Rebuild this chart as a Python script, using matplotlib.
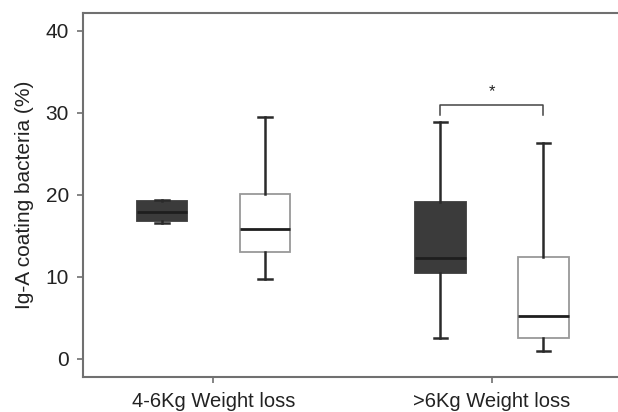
import matplotlib
matplotlib.use("Agg")
import matplotlib.pyplot as plt

plt.rcParams['font.family'] = ['Liberation Sans', 'DejaVu Sans']

groups = ["4-6Kg Weight loss", ">6Kg Weight loss"]
# per box: whislo, q1, med, q3, whishi  (dark = first, white = second in each group)
whislo = [16.6, 9.7, 2.56, 0.94]
q1 = [16.8, 13.0, 10.45, 2.56]
med = [17.85, 15.85, 12.24, 5.17]
q3 = [19.3, 20.1, 19.07, 12.44]
whishi = [19.4, 29.55, 28.9, 26.3]
dark = [True, False, True, False]
pos = [-0.185, 0.185, 0.815, 1.185]

fig = plt.figure(figsize=(6.18, 4.12), dpi=100)
ax = fig.add_axes([0.1351, 0.0857, 0.8649, 0.883])

stats = []
for i in range(4):
    stats.append(dict(whislo=whislo[i], q1=q1[i], med=med[i], q3=q3[i],
                      whishi=whishi[i], fliers=[]))

bp = ax.bxp(stats, positions=pos, widths=0.183, patch_artist=True,
            showfliers=False, capwidths=0.047,
            medianprops=dict(color="#1e1e1e", linewidth=2.0),
            whiskerprops=dict(color="#2a2a2a", linewidth=1.8),
            capprops=dict(color="#2a2a2a", linewidth=1.8))
for b, d in zip(bp["boxes"], dark):
    if d:
        b.set_facecolor("#3b3b3b")
        b.set_edgecolor("#3b3b3b")
    else:
        b.set_facecolor("white")
        b.set_edgecolor("#999999")
    b.set_linewidth(1.3)

# significance bracket
ax.plot([pos[2], pos[2], pos[3], pos[3]], [29.7, 31.0, 31.0, 29.7],
        color="#444444", linewidth=1.1)
ax.text((pos[2] + pos[3]) / 2, 32.6, "*", ha="center", va="center",
        fontsize=12, color="#222222")

ax.set_xlim(-0.467, 1.453)
ax.set_ylim(-2.2, 42.2)
ax.set_xticks([0, 1])
ax.set_xticklabels(groups, fontsize=14.5, color="#222222")
ax.set_yticks([0, 10, 20, 30, 40])
ax.tick_params(axis="y", labelsize=15, labelcolor="#222222", length=4.5,
               width=1.2, color="#707070", pad=6)
ax.tick_params(axis="x", length=4, width=1.2, color="#707070", pad=7)
ax.set_ylabel("Ig-A coating bacteria (%)", fontsize=15, color="#222222", labelpad=8)
for s in ["left", "bottom", "top"]:
    ax.spines[s].set_color("#707070")
    ax.spines[s].set_linewidth(1.5)
ax.spines["right"].set_visible(False)

fig.savefig("out.png", dpi=100)
